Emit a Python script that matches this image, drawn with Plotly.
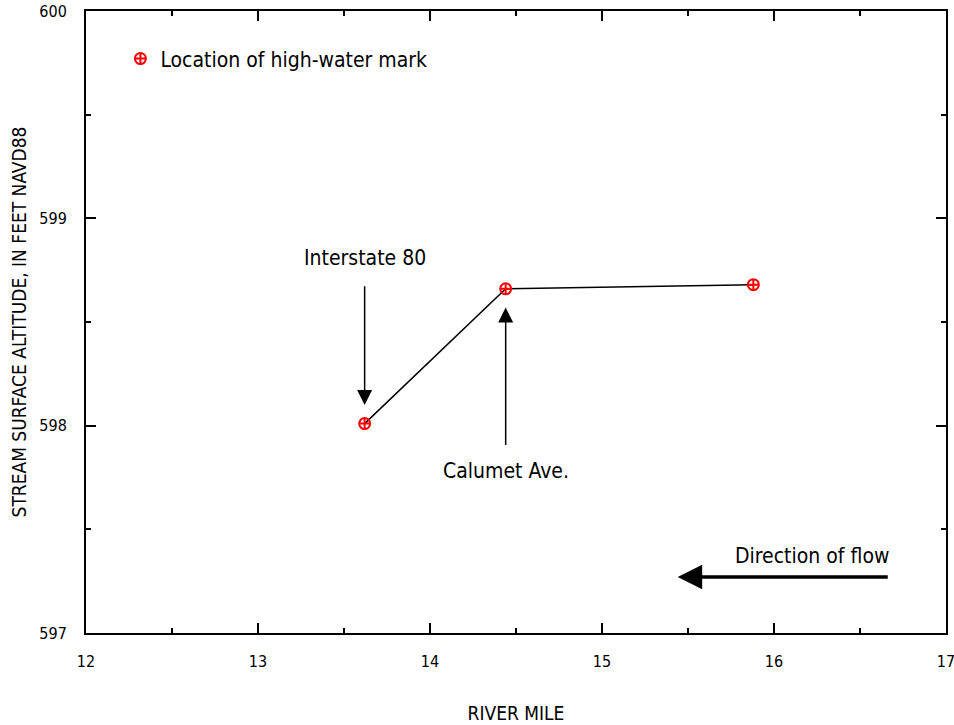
import plotly.graph_objects as go

river_mile = [13.62, 14.44, 15.88]
altitude = [598.01, 598.66, 598.68]
x_ticks = [12, 13, 14, 15, 16, 17]
y_ticks = [597, 598, 599, 600]

FONT = "Liberation Sans Narrow, DejaVu Sans Condensed, Arial Narrow, sans-serif"

fig = go.Figure()
fig.add_trace(go.Scatter(
    x=river_mile, y=altitude, mode="lines", showlegend=False,
    line=dict(color="black", width=1.5), hoverinfo="skip",
))
fig.add_trace(go.Scatter(
    x=river_mile, y=altitude, mode="markers",
    name="Location of high-water mark",
    marker=dict(symbol="circle-cross-open", size=11, color="red",
                line=dict(color="red", width=2)),
))

axis_common = dict(
    showgrid=False, zeroline=False, showline=True, linecolor="black",
    linewidth=2, mirror="ticks", ticks="inside", ticklen=10, tickwidth=1.5,
    tickcolor="black", tickfont=dict(family=FONT, size=16, color="black"),
    automargin=False, ticklabeloverflow="allow",
)

fig.update_xaxes(
    range=[12, 17], tickvals=x_ticks, ticklabelstandoff=13,
    minor=dict(dtick=0.5, ticks="inside", ticklen=5, tickwidth=1.5, tickcolor="black"),
    title=dict(text="RIVER MILE", font=dict(family=FONT, size=19, color="black"), standoff=36),
    **axis_common,
)
fig.update_yaxes(
    range=[597, 600], tickvals=y_ticks, ticklabelstandoff=14,
    minor=dict(dtick=0.5, ticks="inside", ticklen=5, tickwidth=1.5, tickcolor="black"),
    title=dict(text="STREAM SURFACE ALTITUDE, IN FEET NAVD88",
               font=dict(family=FONT, size=19, color="black"), standoff=8),
    **axis_common,
)

ann_font = dict(family=FONT, size=21, color="black")
annotations = [
    dict(x=13.62, y=598.81, text="Interstate 80", showarrow=False, font=ann_font),
    dict(x=13.62, y=598.10, ax=13.62, ay=598.68, axref="x", ayref="y",
         showarrow=True, arrowhead=2, arrowsize=2, arrowwidth=1.5, arrowcolor="black", text=""),
    dict(x=14.44, y=597.78, text="Calumet Ave.", showarrow=False, font=ann_font),
    dict(x=14.44, y=598.57, ax=14.44, ay=597.90, axref="x", ayref="y",
         showarrow=True, arrowhead=2, arrowsize=2, arrowwidth=1.5, arrowcolor="black", text=""),
    dict(x=16.68, y=597.37, text="Direction of flow", showarrow=False, font=ann_font,
         xanchor="right"),
    dict(x=15.44, y=597.27, ax=16.67, ay=597.27, axref="x", ayref="y",
         showarrow=True, arrowhead=2, arrowsize=1.4, arrowwidth=3.5, arrowcolor="black", text=""),
]

fig.update_layout(
    width=954, height=725,
    margin=dict(l=86, r=8, t=11, b=92),
    paper_bgcolor="white", plot_bgcolor="white",
    showlegend=True,
    legend=dict(x=0.04, y=0.923, xanchor="left", yanchor="middle",
                bgcolor="rgba(0,0,0,0)", font=dict(family=FONT, size=21, color="black"),
                itemwidth=30),
    annotations=annotations,
)

fig.write_html("out.html")
